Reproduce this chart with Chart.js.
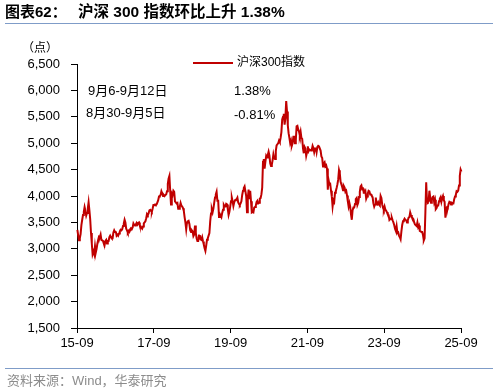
<!DOCTYPE html>
<html>
<head>
<meta charset="utf-8">
<script src="https://cdn.jsdelivr.net/npm/chart.js@4.4.1/dist/chart.umd.min.js"></script>
<style>
  html, body { margin: 0; padding: 0; background: #fff; }
  canvas { display: block; }
</style>
</head>
<body>
<canvas id="myChart" width="498" height="392"></canvas>
<script>
// CSI 300 index, ~weekly readings (4 per month), Sep 2015 - Sep 2025
var v2015 = [3360, 3250, 3160, 3200, 3280, 3450, 3550, 3640, 3700, 3790, 3720, 3630, 3680, 3760, 3880, 3730];
var v2016 = [3560, 3300, 3100, 2900, 2950, 2900, 3050, 2930, 3000, 3100, 3170, 3230, 3220, 3270, 3170, 3160,
             3150, 3100, 3070, 3150, 3170, 3100, 3150, 3150, 3220, 3250, 3220, 3200, 3200, 3310, 3350, 3320,
             3330, 3250, 3270, 3250, 3290, 3330, 3360, 3350, 3370, 3430, 3480, 3550, 3500, 3380, 3350, 3310];
var v2017 = [3340, 3320, 3370, 3390, 3380, 3400, 3480, 3450, 3440, 3460, 3490, 3460, 3490, 3500, 3440, 3430,
             3400, 3380, 3420, 3480, 3500, 3520, 3580, 3660, 3640, 3670, 3730, 3740, 3720, 3700, 3760, 3830,
             3830, 3840, 3830, 3840, 3880, 3920, 3990, 4000, 4020, 4090, 4050, 4000, 4020, 4000, 4020, 4030];
var v2018 = [4090, 4230, 4330, 4380, 4100, 3840, 4050, 4020, 4100, 4080, 3900, 3900, 3860, 3870, 3760, 3760,
             3800, 3870, 3820, 3800, 3770, 3720, 3600, 3500, 3370, 3500, 3520, 3530, 3470, 3350, 3320, 3350,
             3330, 3240, 3270, 3440, 3300, 3200, 3150, 3150, 3250, 3260, 3180, 3170, 3220, 3140, 3080, 3010];
var v2019 = [2960, 3060, 3170, 3200, 3250, 3300, 3520, 3670, 3750, 3690, 3760, 3870, 3970, 4030, 4080, 3910,
             3910, 3600, 3660, 3630, 3600, 3680, 3740, 3830, 3800, 3800, 3850, 3840, 3750, 3640, 3700, 3800,
             3900, 3970, 3900, 3810, 3880, 3920, 3930, 3940, 3970, 3880, 3850, 3830, 3860, 3900, 4020, 4100];
var v2020 = [4150, 4180, 4090, 4000, 3690, 3950, 4120, 3940, 4100, 3900, 3690, 3700, 3690, 3780, 3790, 3820,
             3890, 3910, 3860, 3870, 3950, 3960, 4030, 4160, 4650, 4700, 4520, 4650, 4760, 4730, 4780, 4840,
             4770, 4620, 4570, 4590, 4680, 4790, 4720, 4700, 4850, 4960, 4980, 5000, 5050, 5020, 5100, 5210];
var v2021 = [5450, 5500, 5560, 5350, 5480, 5800, 5600, 5340, 5190, 5100, 5000, 5050, 4950, 5000, 5120, 5120,
             5000, 5050, 5320, 5330, 5260, 5220, 5150, 5220, 5100, 5080, 4900, 4810, 4930, 4900, 4760, 4830,
             4940, 4850, 4880, 4870, 4860, 4880, 4950, 4910, 4830, 4900, 4920, 4830, 4930, 4950, 4940, 4940];
var v2022 = [4860, 4750, 4720, 4560, 4620, 4640, 4560, 4580, 4520, 4120, 4300, 4220, 4230, 4100, 3990, 3800,
             3920, 3890, 4060, 4090, 4150, 4220, 4310, 4490, 4430, 4270, 4220, 4170, 4110, 4190, 4160, 4080,
             4100, 4010, 3900, 3800, 3870, 3800, 3650, 3550, 3730, 3780, 3780, 3850, 3940, 3960, 3830, 3870];
var v2023 = [3980, 4080, 4180, 4200, 4130, 4140, 4060, 4060, 4090, 3950, 3990, 4050, 4100, 4090, 4030, 4030,
             4000, 3980, 3860, 3800, 3840, 3970, 3850, 3840, 3880, 3840, 3820, 4000, 3960, 3840, 3780, 3740,
             3800, 3740, 3720, 3690, 3650, 3640, 3550, 3570, 3560, 3590, 3540, 3500, 3450, 3380, 3340, 3430];
var v2024 = [3300, 3310, 3250, 3220, 3180, 3330, 3450, 3520, 3540, 3570, 3550, 3540, 3500, 3540, 3590, 3600,
             3690, 3640, 3600, 3580, 3560, 3500, 3460, 3460, 3430, 3500, 3410, 3440, 3340, 3330, 3320, 3320,
             3260, 3160, 3200, 3700, 4260, 3890, 3880, 3900, 4100, 3970, 3870, 3930, 3980, 3990, 3880, 3930];
var v2025 = [3750, 3770, 3820, 3820, 3900, 3950, 3980, 3890, 3960, 4000, 3920, 3890, 3590, 3760, 3790, 3780,
             3850, 3890, 3880, 3840, 3870, 3860, 3860, 3940, 3990, 4020, 4090, 4080, 4100, 4200, 4380, 4500,
             4460, 4520];

var years = [2015, 2016, 2017, 2018, 2019, 2020, 2021, 2022, 2023, 2024, 2025];
var yearValues = [v2015, v2016, v2017, v2018, v2019, v2020, v2021, v2022, v2023, v2024, v2025];
var tickLabels = ['15-09', '17-09', '19-09', '21-09', '23-09', '25-09'];
var seriesName = '沪深300指数';

// x = months since 2015-09
var points = [];
years.forEach(function (yr, n) {
  var firstMonth = yr === 2015 ? 9 : 1;
  yearValues[n].forEach(function (v, i) {
    var m = (yr - 2015) * 12 + (firstMonth - 9) + Math.floor(i / 4);
    points.push({ x: m + ((i % 4) + 0.5) / 4, y: v });
  });
});

var LAT = '"Liberation Sans", "Noto Sans CJK SC", sans-serif';

var textPlugin = {
  id: 'texts',
  afterDraw: function (chart) {
    var c = chart.ctx;
    c.save();
    c.textBaseline = 'middle';
    c.textAlign = 'left';
    // title
    c.fillStyle = '#000';
    c.font = 'bold 15px ' + LAT;
    c.fillText('图表62：', 5, 13);
    c.font = 'bold 15.5px ' + LAT;
    c.fillText('沪深 300 指数环比上升 1.38%', 78, 13);
    c.strokeStyle = '#7F9CC8';
    c.lineWidth = 1;
    c.beginPath(); c.moveTo(5, 23.5); c.lineTo(493, 23.5); c.stroke();
    // unit
    c.font = '12px ' + LAT;
    c.fillText('（点）', 22, 49);
    // legend
    c.strokeStyle = '#C00000';
    c.lineWidth = 2;
    c.beginPath(); c.moveTo(193, 63); c.lineTo(233, 63); c.stroke();
    c.font = '12px ' + LAT;
    c.fillText(seriesName, 237, 63);
    // notes
    c.font = '13px ' + LAT;
    c.fillText('9月6-9月12日', 88, 91);
    c.fillText('1.38%', 234, 91);
    c.fillText('8月30-9月5日', 86, 113);
    c.fillText('-0.81%', 234, 115);
    // footer
    c.strokeStyle = '#7F9CC8';
    c.lineWidth = 1;
    c.beginPath(); c.moveTo(5, 368.5); c.lineTo(493, 368.5); c.stroke();
    c.fillStyle = '#8C8C8C';
    c.font = '13px ' + LAT;
    c.fillText('资料来源：Wind，华泰研究', 7, 381);
    c.restore();
  }
};

var ctx = document.getElementById('myChart').getContext('2d');
var myChart = new Chart(ctx, {
  type: 'line',
  data: {
    datasets: [{
      label: seriesName,
      data: points,
      borderColor: '#C00000',
      borderWidth: 2,
      pointRadius: 0,
      tension: 0,
      fill: false,
      clip: false
    }]
  },
  options: {
    responsive: false,
    animation: false,
    layout: { padding: { top: 64, right: 37, bottom: 0, left: 0 } },
    plugins: { legend: { display: false }, tooltip: { enabled: false } },
    scales: {
      x: {
        type: 'linear',
        min: 0,
        max: 120,
        afterFit: function (s) { s.height = 64; },
        border: { display: true, color: '#000', width: 1 },
        grid: { drawOnChartArea: false, drawTicks: true, tickLength: 5, color: '#000' },
        ticks: {
          stepSize: 24,
          padding: 3,
          maxRotation: 0,
          color: '#000',
          font: { family: LAT, size: 13 },
          callback: function (v) { return tickLabels[v / 24]; }
        }
      },
      y: {
        min: 1500,
        max: 6500,
        afterFit: function (s) { s.width = 77; },
        border: { display: true, color: '#000', width: 1 },
        grid: { drawOnChartArea: false, drawTicks: true, tickLength: 6, color: '#000' },
        ticks: {
          stepSize: 500,
          padding: 11,
          color: '#000',
          font: { family: LAT, size: 13 },
          callback: function (v) { return v.toLocaleString('en-US'); }
        }
      }
    }
  },
  plugins: [textPlugin]
});
</script>
</body>
</html>
